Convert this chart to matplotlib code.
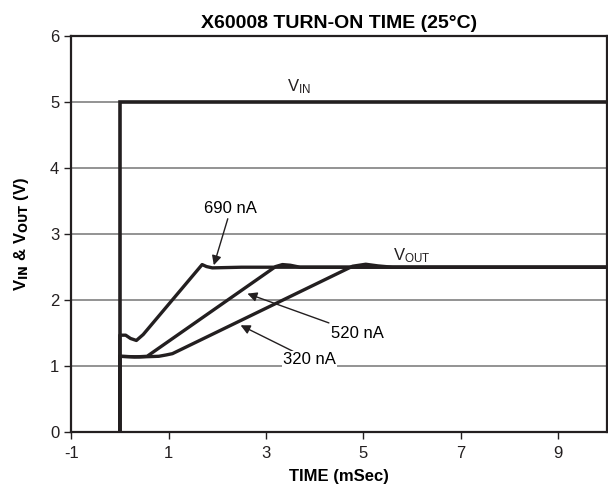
"""
X60008 turn-on time plot (V_IN, V_OUT vs time)
"""

import matplotlib
matplotlib.use("Agg")
import matplotlib.pyplot as plt

# 데이터
vin_t = [0.0, 0.0, 10.0]
vin_v = [0.0, 5.0, 5.0]

t_690 = [0.0, 0.0, 0.12, 0.22, 0.34, 0.48, 1.69, 1.78, 1.9, 2.5, 3.5, 5.0, 10.0]
v_690 = [0.0, 1.47, 1.47, 1.42, 1.39, 1.48, 2.54, 2.51, 2.49, 2.5, 2.5, 2.5, 2.5]

t_520 = [0.0, 0.0, 0.3, 0.56, 3.2, 3.34, 3.5, 3.7, 10.0]
v_520 = [0.0, 1.15, 1.14, 1.15, 2.51, 2.54, 2.53, 2.5, 2.5]

t_320 = [0.0, 0.0, 0.4, 0.8, 0.95, 1.08, 4.78, 5.05, 5.3, 5.6, 10.0]
v_320 = [0.0, 1.15, 1.14, 1.15, 1.17, 1.19, 2.515, 2.545, 2.52, 2.5, 2.5]

x_ticks = [-1, 1, 3, 5, 7, 9]
y_ticks = [0, 1, 2, 3, 4, 5, 6]

INK = '#231f20'

plt.rcParams.update({
    'font.family': ['Liberation Sans', 'DejaVu Sans'],
    'mathtext.default': 'regular',
    'axes.unicode_minus': False,
    'font.size': 12,
})

fig = plt.figure(figsize=(6.08, 4.90), dpi=100)
ax = fig.add_axes([0.117, 0.118, 0.881, 0.808])

# 가로 그리드만
for y in y_ticks[1:-1]:
    ax.axhline(y, color='#8a8a8a', lw=1.3, zorder=1)

ax.plot(vin_t, vin_v, color=INK, lw=2.6, zorder=3, solid_joinstyle='miter')
for t, v in [(t_690, v_690), (t_520, v_520), (t_320, v_320)]:
    ax.plot(t, v, color=INK, lw=2.4, zorder=3)

ax.set_xlim(-1, 10)
ax.set_ylim(0, 6)
ax.set_xticks(x_ticks)
ax.set_yticks(y_ticks)
ax.tick_params(direction='out', length=5, width=1, colors=INK, labelsize=12)
ax.tick_params(axis='x', pad=5)
for s in ax.spines.values():
    s.set_linewidth(1.6)
    s.set_color(INK)

ax.set_title('X60008 TURN-ON TIME (25°C)', fontsize=14, fontweight='bold', pad=6)
ax.set_xlabel('TIME (mSec)', fontsize=12, fontweight='bold', labelpad=6)
ax.set_ylabel('V$_{\\mathbf{IN}}$ & V$_{\\mathbf{OUT}}$ (V)', fontsize=12,
              fontweight='bold', labelpad=14)

# 라벨
ax.text(3.68, 5.23, 'V$_{IN}$', ha='center', va='center', fontsize=12, color=INK)
ax.text(6.0, 2.68, 'V$_{OUT}$', ha='center', va='center', fontsize=12, color=INK)

arrow = dict(arrowstyle='-|>', color=INK, lw=1.0, mutation_scale=14, shrinkA=0, shrinkB=0)
ax.annotate('690 nA', xy=(1.93, 2.53), xytext=(2.28, 3.39), ha='center', va='center',
            fontsize=12, arrowprops=arrow, zorder=4)
ax.annotate('520 nA', xy=(2.62, 2.10), xytext=(4.88, 1.50), ha='center', va='center',
            fontsize=12, arrowprops=arrow, zorder=4)
ax.annotate('320 nA', xy=(2.48, 1.62), xytext=(3.90, 1.10), ha='center', va='center',
            fontsize=12, arrowprops=arrow, zorder=4,
            bbox=dict(boxstyle='square,pad=0.05', fc='white', ec='none'))

fig.savefig('out.png', dpi=100, facecolor='white')
